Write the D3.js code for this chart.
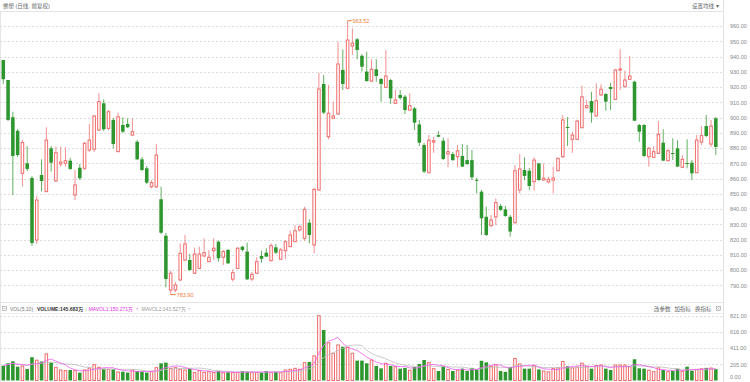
<!DOCTYPE html>
<html>
<head>
<meta charset="utf-8">
<script src="https://cdn.jsdelivr.net/npm/d3@7"></script>
<style>
  body { margin: 0; background: #fff; }
  svg text { font-family: "Liberation Sans", Arial, "Noto Sans CJK SC", sans-serif; }
</style>
</head>
<body>
<svg id="chart" width="750" height="382"></svg>
<script>
// daily candles (oldest first)
const opens = [937.7,924.6,900.2,891.3,863.4,870.0,860.4,819.7,862.3,851.4,879.8,858.4,869.5,870.0,871.7,849.2,867.1,866.7,878.7,879.2,
  891.8,909.3,892.9,898.4,877.6,895.1,895.8,888.5,884.1,872.6,866.7,854.6,854.6,846.4,822.5,786.9,786.9,793.5,806.6,806.6,
  797.9,801.1,809.2,805.5,812.7,818.6,808.4,813.2,794.1,801.1,815.3,812.1,794.1,797.9,809.2,811.4,806.1,814.9,807.1,812.7,
  815.3,818.6,826.3,820.8,831.0,816.4,852.5,922.0,887.4,899.5,902.3,931.2,919.2,946.9,951.3,940.5,930.1,923.9,931.6,925.3,
  919.8,924.6,909.3,914.8,913.7,904.9,906.0,895.5,882.0,863.8,883.9,888.5,884.8,876.1,876.1,874.3,874.8,872.1,872.1,859.2,
  851.4,834.9,829.1,834.9,842.0,839.8,834.9,831.0,852.5,865.6,865.1,857.9,869.9,859.0,857.7,859.0,865.1,874.3,893.8,885.7,
  885.7,893.3,906.4,910.8,901.0,914.8,915.4,920.0,911.9,931.2,920.2,925.1,923.5,895.1,895.1,874.3,873.9,876.5,883.5,871.7,
  876.7,879.8,867.4,870.2,870.4,863.8,883.9,894.4,882.6,899.5];
const highs = [937.7,924.6,903.8,892.5,885.2,881.3,861.7,848.6,872.6,893.6,881.3,880.9,880.9,880.5,873.5,865.6,869.5,883.9,895.8,901.6,
  915.9,911.9,904.9,899.7,903.2,900.1,899.5,899.5,885.2,874.1,868.2,859.0,882.6,854.6,824.3,799.6,792.2,817.5,823.0,810.5,
  814.7,815.3,820.8,813.2,820.8,819.4,813.2,813.8,800.5,815.1,815.8,817.9,798.7,808.4,812.7,814.3,817.5,817.1,814.5,819.7,
  825.8,829.5,829.5,841.5,833.3,853.8,929.4,927.9,921.3,910.4,949.7,944.7,963.52,958.5,952.1,941.6,943.1,938.2,938.2,925.9,
  944.3,925.3,918.0,918.0,914.8,915.9,906.9,898.4,883.3,888.5,887.4,891.2,886.8,886.4,877.4,882.0,882.6,882.0,878.7,860.5,
  852.5,841.5,836.1,847.0,843.3,842.0,836.1,868.9,876.1,873.9,866.9,873.9,870.2,869.9,861.2,867.8,873.5,901.6,900.3,890.7,
  898.4,920.9,911.5,916.9,922.4,921.8,916.1,922.8,931.8,944.7,930.7,940.3,924.1,895.8,895.8,880.7,881.3,897.7,892.3,879.4,
  886.4,885.2,875.4,885.7,872.1,888.5,894.4,901.6,898.4,900.3];
const lows = [922.0,897.7,849.2,874.1,854.6,864.9,815.8,817.1,851.4,851.2,864.5,857.7,867.8,867.8,865.6,845.9,859.0,865.6,877.4,877.4,
  891.2,891.2,891.8,879.8,877.4,889.7,893.1,887.9,872.1,864.9,856.4,853.6,853.8,823.6,788.7,783.9,785.6,792.8,805.9,799.4,
  797.4,800.7,808.6,805.3,806.6,805.5,803.3,803.9,792.4,800.7,812.1,793.5,792.8,797.4,804.8,808.6,805.9,810.5,806.6,807.1,
  815.1,818.4,825.2,819.2,817.5,811.0,851.8,902.3,885.7,899.0,901.6,918.0,918.7,941.0,938.2,930.1,923.5,923.3,923.5,910.4,
  919.4,908.9,908.9,911.5,902.3,904.3,891.8,881.3,863.6,863.4,876.9,887.0,872.1,867.4,871.5,867.4,867.6,868.9,859.0,850.3,
  823.0,822.3,828.4,829.5,838.7,834.9,821.9,830.6,850.3,859.0,852.5,852.0,858.4,858.6,856.9,850.3,864.9,873.5,881.3,876.9,
  885.2,892.9,906.0,896.6,900.5,914.1,904.5,904.9,911.5,918.0,920.0,924.6,897.7,884.1,874.1,867.8,873.5,876.1,871.5,871.3,
  872.1,867.6,866.9,866.7,859.0,863.6,882.0,887.2,880.7,875.5];
const closes = [925.1,898.4,874.8,875.4,883.7,866.3,817.7,845.9,858.4,885.2,870.4,876.9,870.8,871.7,866.3,855.8,860.2,883.1,885.2,901.0,
  910.4,892.3,903.8,882.6,900.5,890.7,893.6,890.7,872.6,865.6,857.3,857.3,875.4,824.5,794.1,797.9,790.2,811.0,817.1,800.0,
  810.5,810.5,811.4,808.4,814.3,807.7,812.1,804.4,798.3,814.3,813.2,793.9,797.2,805.5,807.4,808.8,816.0,811.4,813.2,818.6,
  823.0,825.8,828.4,839.8,823.0,852.9,918.7,903.2,902.8,901.0,935.1,922.0,950.8,948.7,944.3,933.3,923.9,931.6,927.2,922.0,
  927.2,912.6,911.5,912.8,904.9,907.8,896.6,883.5,864.5,885.2,884.8,887.4,872.8,877.6,872.1,878.2,867.8,869.5,860.8,858.8,
  833.9,823.0,832.8,844.2,839.4,835.4,825.2,865.1,866.3,861.7,855.1,872.1,859.0,860.2,859.5,860.3,873.3,898.4,893.1,888.5,
  897.7,913.6,907.8,903.2,911.0,918.5,910.4,918.7,931.2,931.8,924.6,927.2,897.9,890.7,874.8,879.8,877.6,889.0,871.7,878.2,
  876.3,867.8,872.6,869.7,863.4,885.2,888.1,887.9,894.4,880.7];
// volume in 万
const volumes = [188,218,243,175,184,146,295,257,240,338,226,167,133,125,133,125,100,133,158,201,
  167,150,142,142,108,112,100,133,120,112,100,112,163,218,226,154,163,142,133,150,
  100,125,104,112,100,120,100,104,100,100,120,112,104,100,100,120,104,112,100,133,
  142,154,142,226,235,312,821,640,479,345,450,428,420,345,252,252,218,260,184,154,
  218,184,175,150,160,130,170,210,260,230,150,120,180,140,120,130,150,120,160,140,
  250,230,180,200,120,110,170,280,210,150,150,190,140,120,110,150,160,240,180,160,
  170,220,180,150,190,196,150,133,196,196,196,175,269,155,150,130,112,160,133,112,
  120,150,115,175,124,140,148,160,158,145.683];

const priceTicks = [960,950,940,930,920,910,900,890,880,870,860,850,840,830,820,810,800,790];
const volTicks = [821,616,411,205,0];
const titleText = "佛塑  (日线, 前复权)";
const volLegend = [
  { t: "VOL(5,10)", x: 10, c: "#777" },
  { t: "VOLUME:145.683万", x: 37, c: "#333", b: true },
  { t: "↓", x: 80, c: "#2e962e" },
  { t: "MAVOL1:150.271万", x: 86, c: "#e030e0" },
  { t: "↑", x: 136, c: "#e030e0" },
  { t: "MAVOL2:143.527万", x: 141.5, c: "#999" },
  { t: "↑", x: 188, c: "#999" }
];
const volTools = ["改参数", "加指标", "换指标"];

const W = 750, H = 382;
const PLOT_R = 723;
const RED = "#f06b6b", GREEN = "#2e962e", GRID = "#dcdcdc";
const N = opens.length;

const svg = d3.select("#chart");

const x = d3.scaleBand()
  .domain(d3.range(N))
  .range([0.9, 718.2])
  .paddingInner(0.26)
  .paddingOuter(0.13);
const bw = x.bandwidth();
const cx = i => x(i) + bw / 2;

const y = d3.scaleLinear().domain([790, 960]).range([285.3, 26]);
const yVol = d3.scaleLinear().domain([0, 821]).range([380.5, 315.7]);

const data = d3.range(N).map(i => ({
  i: i, o: opens[i], h: highs[i], l: lows[i], c: closes[i], v: volumes[i]
}));
const isUp = d => d.c >= d.o;

// frame lines
svg.append("line").attr("x1", 0).attr("x2", PLOT_R).attr("y1", 11.5).attr("y2", 11.5).attr("stroke", "#e4e4e4");
svg.append("line").attr("x1", PLOT_R + 0.5).attr("x2", PLOT_R + 0.5).attr("y1", 0).attr("y2", H).attr("stroke", "#e0e0e0");
svg.append("line").attr("x1", 0.5).attr("x2", 0.5).attr("y1", 11).attr("y2", H).attr("stroke", "#e4e4e4");
svg.append("line").attr("x1", 0).attr("x2", PLOT_R).attr("y1", 302.5).attr("y2", 302.5).attr("stroke", "#e4e4e4");
svg.append("line").attr("x1", 0).attr("x2", PLOT_R).attr("y1", 313.5).attr("y2", 313.5).attr("stroke", "#eeeeee");

// header
svg.append("text").attr("x", 3).attr("y", 8).attr("font-size", 5.5).attr("fill", "#666").text(titleText);
svg.append("text").attr("x", 692).attr("y", 8).attr("font-size", 5.5).attr("fill", "#666").text("设置均线 ▾");

// grid
svg.append("g").selectAll("line").data(priceTicks).join("line")
  .attr("x1", 0).attr("x2", PLOT_R)
  .attr("y1", d => Math.round(y(d)) + 0.5).attr("y2", d => Math.round(y(d)) + 0.5)
  .attr("stroke", GRID).attr("stroke-dasharray", "2,2");
svg.append("g").selectAll("line").data(volTicks.filter(d => d > 0)).join("line")
  .attr("x1", 0).attr("x2", PLOT_R)
  .attr("y1", d => Math.round(yVol(d)) + 0.5).attr("y2", d => Math.round(yVol(d)) + 0.5)
  .attr("stroke", GRID).attr("stroke-dasharray", "2,2");

// price axis
const yAxis = d3.axisRight(y).tickValues(priceTicks).tickFormat(d3.format(".2f")).tickSize(0).tickPadding(0);
svg.append("g").attr("transform", "translate(730,0)").call(yAxis)
  .call(g => g.select(".domain").remove())
  .call(g => g.selectAll("text").attr("font-size", 5.5).attr("fill", "#888").attr("font-family", null));

const volAxis = d3.axisRight(yVol).tickValues(volTicks).tickFormat(d3.format(".2f")).tickSize(0).tickPadding(0);
svg.append("g").attr("transform", "translate(730,0)").call(volAxis)
  .call(g => g.select(".domain").remove())
  .call(g => g.selectAll("text").attr("font-size", 5.5).attr("fill", "#888").attr("font-family", null))
  .call(g => g.selectAll(".tick").filter(d => d === 0).select("text").attr("dy", "-0.4em"));

// candles
const candle = svg.append("g").selectAll("g").data(data).join("g");
candle.append("line")
  .attr("x1", d => cx(d.i)).attr("x2", d => cx(d.i))
  .attr("y1", d => y(d.h)).attr("y2", d => y(d.l))
  .attr("stroke", d => isUp(d) ? RED : GREEN)
  .attr("stroke-opacity", 0.75);
candle.append("rect")
  .attr("x", d => isUp(d) ? x(d.i) + 0.5 : x(d.i))
  .attr("width", d => isUp(d) ? bw - 1 : bw)
  .attr("y", d => y(Math.max(d.o, d.c)))
  .attr("height", d => Math.max(1, Math.abs(y(d.o) - y(d.c))))
  .attr("fill", d => isUp(d) ? "#fff" : GREEN)
  .attr("stroke", d => isUp(d) ? RED : "none");

// max / min marks
const hiI = d3.maxIndex(highs), loI = d3.minIndex(lows);
const ORANGE = "#ef7d3a";
svg.append("path")
  .attr("d", `M${cx(hiI)},${y(highs[hiI])}H${cx(hiI) + 4}`)
  .attr("stroke", ORANGE).attr("fill", "none");
svg.append("text").attr("x", cx(hiI) + 5).attr("y", y(highs[hiI]) + 2)
  .attr("font-size", 5.5).attr("fill", ORANGE).text(d3.format(".2f")(highs[hiI]));
svg.append("path")
  .attr("d", `M${cx(loI)},${y(lows[loI])}H${cx(loI) + 5}`)
  .attr("stroke", ORANGE).attr("fill", "none");
svg.append("text").attr("x", cx(loI) + 6).attr("y", y(lows[loI]) + 2)
  .attr("font-size", 5.5).attr("fill", ORANGE).text(d3.format(".2f")(lows[loI]));

// volume bars
svg.append("g").selectAll("rect").data(data).join("rect")
  .attr("x", d => isUp(d) ? x(d.i) + 0.5 : x(d.i))
  .attr("width", d => isUp(d) ? bw - 1 : bw)
  .attr("y", d => yVol(d.v))
  .attr("height", d => yVol(0) - yVol(d.v))
  .attr("fill", d => isUp(d) ? "#fff" : GREEN)
  .attr("stroke", d => isUp(d) ? RED : "none");

// volume moving averages
const ma = n => volumes.map((v, i) => d3.mean(volumes.slice(Math.max(0, i - n + 1), i + 1)));
const maLine = d3.line().x((d, i) => cx(i)).y(d => yVol(d));
svg.append("path").attr("d", maLine(ma(10))).attr("fill", "none").attr("stroke", "#bdbdbd").attr("stroke-width", 0.8);
svg.append("path").attr("d", maLine(ma(5))).attr("fill", "none").attr("stroke", "#f060f0").attr("stroke-width", 0.8);

// volume legend, laid out left to right so pieces never overlap
svg.append("rect").attr("x", 2.5).attr("y", 306.5).attr("width", 4).attr("height", 4)
  .attr("fill", "none").attr("stroke", "#999").attr("stroke-width", 0.6);
svg.append("line").attr("x1", 3.5).attr("x2", 5.5).attr("y1", 308.5).attr("y2", 308.5).attr("stroke", "#999").attr("stroke-width", 0.6);
let nextX = 0;
volLegend.forEach(item => {
  const t = svg.append("text")
    .attr("x", Math.max(item.x, nextX)).attr("y", 311)
    .attr("font-size", 5).attr("fill", item.c)
    .attr("font-weight", item.b ? "bold" : null)
    .text(item.t);
  nextX = Math.max(item.x, nextX) + t.node().getComputedTextLength() + 1.5;
});

svg.append("g").selectAll("text").data(volTools).join("text")
  .attr("x", (d, i) => 654 + i * 20.5).attr("y", 311)
  .attr("font-size", 5.5).attr("fill", "#666").text(d => d);
svg.append("rect").attr("x", 716.5).attr("y", 306.5).attr("width", 4).attr("height", 4)
  .attr("fill", "none").attr("stroke", "#999").attr("stroke-width", 0.6);
svg.append("path").attr("d", "M717.5,307.5L719.5,309.5M719.5,307.5L717.5,309.5").attr("stroke", "#999").attr("stroke-width", 0.5);
</script>
</body>
</html>
